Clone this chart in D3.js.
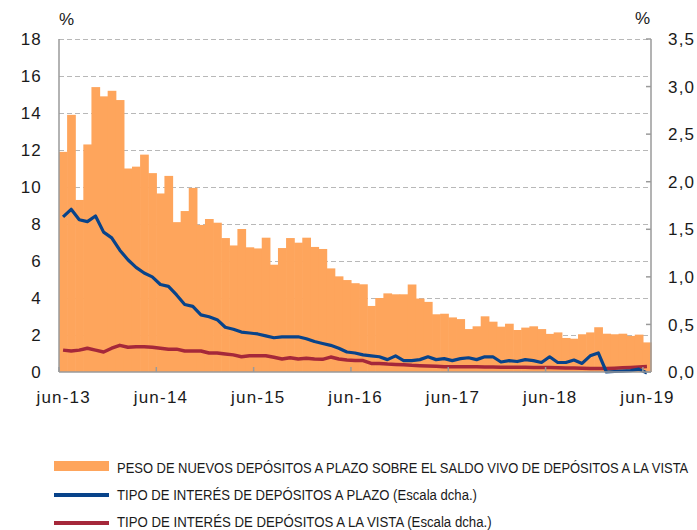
<!DOCTYPE html>
<html>
<head>
<meta charset="utf-8">
<script src="https://cdn.jsdelivr.net/npm/d3@7"></script>
<style>
    html, body { margin: 0; padding: 0; background: #fff; }
    svg { display: block; }
    .tick-label { font-family: "Liberation Sans", Arial, sans-serif; font-size: 17px; fill: #1a1a1a; letter-spacing: 1.2px; }
    .legend-label { font-family: "Liberation Sans Narrow", "Arial Narrow", "Liberation Sans", sans-serif; font-size: 15.5px; fill: #1a1a1a; }
</style>
</head>
<body>
<div id="chart"></div>
<script>
(function () {
    // Data: monthly, jun-13 .. jun-19
    var months = ['jun-13', 'jul-13', 'ago-13', 'sep-13', 'oct-13', 'nov-13', 'dic-13',
        'ene-14', 'feb-14', 'mar-14', 'abr-14', 'may-14', 'jun-14', 'jul-14', 'ago-14', 'sep-14', 'oct-14', 'nov-14', 'dic-14',
        'ene-15', 'feb-15', 'mar-15', 'abr-15', 'may-15', 'jun-15', 'jul-15', 'ago-15', 'sep-15', 'oct-15', 'nov-15', 'dic-15',
        'ene-16', 'feb-16', 'mar-16', 'abr-16', 'may-16', 'jun-16', 'jul-16', 'ago-16', 'sep-16', 'oct-16', 'nov-16', 'dic-16',
        'ene-17', 'feb-17', 'mar-17', 'abr-17', 'may-17', 'jun-17', 'jul-17', 'ago-17', 'sep-17', 'oct-17', 'nov-17', 'dic-17',
        'ene-18', 'feb-18', 'mar-18', 'abr-18', 'may-18', 'jun-18', 'jul-18', 'ago-18', 'sep-18', 'oct-18', 'nov-18', 'dic-18',
        'ene-19', 'feb-19', 'mar-19', 'abr-19', 'may-19', 'jun-19'];

    // Peso de nuevos depositos a plazo (left axis, %)
    var pesoNuevos = [11.9, 13.9, 9.3, 12.3, 15.4, 14.9, 15.2,
        14.7, 11.0, 11.1, 11.75, 10.75, 9.65, 10.6, 8.1, 8.7, 9.95, 7.95, 8.27,
        8.07, 7.24, 6.84, 7.73, 6.74, 6.68, 7.26, 5.8, 6.7, 7.24, 6.99, 7.26,
        6.76, 6.65, 5.6, 5.17, 4.97, 4.8, 4.74, 3.57, 4.0, 4.25, 4.2, 4.2,
        4.73, 3.97, 3.79, 3.12, 3.15, 2.95, 2.86, 2.32, 2.47, 3.01, 2.72, 2.45,
        2.61, 2.27, 2.4, 2.47, 2.32, 2.06, 2.14, 1.84, 1.8, 2.04, 2.14, 2.42,
        2.07, 2.04, 2.07, 1.95, 2.02, 1.6];

    // Tipo de interes depositos a plazo (right axis, %)
    var tipoPlazo = [1.63, 1.71, 1.60, 1.58, 1.64, 1.47, 1.41,
        1.28, 1.18, 1.10, 1.04, 1.0, 0.92, 0.90, 0.81, 0.71, 0.69, 0.60, 0.58,
        0.55, 0.47, 0.45, 0.42, 0.41, 0.40, 0.38, 0.36, 0.37, 0.37, 0.37, 0.35,
        0.32, 0.30, 0.28, 0.25, 0.21, 0.20, 0.18, 0.17, 0.16, 0.13, 0.17, 0.12,
        0.12, 0.13, 0.16, 0.13, 0.14, 0.12, 0.14, 0.15, 0.13, 0.16, 0.16, 0.105,
        0.12, 0.11, 0.13, 0.12, 0.10, 0.16, 0.10, 0.10, 0.126, 0.09, 0.17, 0.20,
        0.0, 0.005, 0.01, 0.015, 0.03, -0.01];

    // Tipo de interes depositos a la vista (right axis, %)
    var tipoVista = [0.23, 0.22, 0.23, 0.25, 0.23, 0.21, 0.25,
        0.28, 0.26, 0.265, 0.265, 0.26, 0.25, 0.24, 0.24, 0.22, 0.22, 0.22, 0.20,
        0.20, 0.19, 0.18, 0.16, 0.17, 0.17, 0.17, 0.155, 0.137, 0.15, 0.137, 0.145,
        0.137, 0.133, 0.157, 0.137, 0.126, 0.122, 0.12, 0.09, 0.09, 0.084, 0.08, 0.077,
        0.07, 0.066, 0.063, 0.06, 0.056, 0.055, 0.055, 0.055, 0.054, 0.053, 0.052, 0.051,
        0.05, 0.05, 0.049, 0.048, 0.047, 0.046, 0.045, 0.043, 0.041, 0.039, 0.037, 0.036,
        0.036, 0.04, 0.044, 0.048, 0.053, 0.057];

    var leftTicks = [0, 2, 4, 6, 8, 10, 12, 14, 16, 18];
    var rightTicks = [0, 0.5, 1, 1.5, 2, 2.5, 3, 3.5];
    var xTickLabels = ['jun-13', 'jun-14', 'jun-15', 'jun-16', 'jun-17', 'jun-18', 'jun-19'];

    var legendItems = [
        { label: 'PESO DE NUEVOS DEPÓSITOS A PLAZO SOBRE EL SALDO VIVO DE DEPÓSITOS A LA VISTA', kind: 'bar', color: '#fea55c', width: 572 },
        { label: 'TIPO DE INTERÉS DE DEPÓSITOS A PLAZO (Escala dcha.)', kind: 'line', color: '#08438a', width: 360 },
        { label: 'TIPO DE INTERÉS DE DEPÓSITOS A LA VISTA (Escala dcha.)', kind: 'line', color: '#a5283a', width: 375 }
    ];

    // Layout
    var W = 697, H = 530;
    var PLOT_L = 59, PLOT_R = 651, PLOT_T = 39, PLOT_B = 372;
    var AXIS_COLOR = '#9a9a9a';
    var GRID_COLOR = '#b8b8b8';

    var svg = d3.select('#chart').append('svg')
        .attr('width', W).attr('height', H)
        .attr('viewBox', [0, 0, W, H]);

    var x = d3.scaleBand().domain(months).range([PLOT_L, PLOT_R]).paddingInner(0).paddingOuter(0);
    var yL = d3.scaleLinear().domain([0, 18]).range([PLOT_B, PLOT_T]);
    var yR = d3.scaleLinear().domain([0, 3.5]).range([PLOT_B, PLOT_T]);
    var bw = x.bandwidth();

    // Gridlines (behind bars)
    svg.append('g').selectAll('line')
        .data(leftTicks.filter(function (d) { return d > 0; }))
        .join('line')
        .attr('x1', PLOT_L).attr('x2', PLOT_R)
        .attr('y1', function (d) { return Math.round(yL(d)) + 0.5; })
        .attr('y2', function (d) { return Math.round(yL(d)) + 0.5; })
        .attr('stroke', GRID_COLOR)
        .attr('stroke-width', 1)
        .attr('stroke-dasharray', '5,3');

    // Bars
    svg.append('g').selectAll('rect')
        .data(pesoNuevos)
        .join('rect')
        .attr('x', function (d, i) { return x(months[i]); })
        .attr('width', bw + 0.6)
        .attr('y', function (d) { return yL(d); })
        .attr('height', function (d) { return PLOT_B - yL(d); })
        .attr('fill', legendItems[0].color);

    // Lines (right scale)
    var lineGen = d3.line()
        .x(function (d, i) { return x(months[i]) + bw / 2; })
        .y(function (d) { return yR(d); });

    svg.append('path')
        .datum(tipoVista)
        .attr('d', lineGen)
        .attr('fill', 'none')
        .attr('stroke', legendItems[2].color)
        .attr('stroke-width', 3.5)
        .attr('stroke-linejoin', 'round');

    svg.append('path')
        .datum(tipoPlazo)
        .attr('d', lineGen)
        .attr('fill', 'none')
        .attr('stroke', legendItems[1].color)
        .attr('stroke-width', 3.2)
        .attr('stroke-linejoin', 'round');

    // Axis frame: left, bottom, right
    var frame = svg.append('g').attr('stroke', AXIS_COLOR).attr('stroke-width', 1.5);
    frame.append('line').attr('x1', PLOT_L).attr('x2', PLOT_L).attr('y1', PLOT_T).attr('y2', PLOT_B);
    frame.append('line').attr('x1', PLOT_R).attr('x2', PLOT_R).attr('y1', PLOT_T).attr('y2', PLOT_B);
    frame.append('line').attr('x1', PLOT_L).attr('x2', PLOT_R).attr('y1', PLOT_B).attr('y2', PLOT_B);

    // Right axis inward ticks
    frame.selectAll('.rtick')
        .data(rightTicks)
        .join('line')
        .attr('class', 'rtick')
        .attr('x1', PLOT_R - 5).attr('x2', PLOT_R)
        .attr('y1', function (d) { return yR(d); })
        .attr('y2', function (d) { return yR(d); });

    // Bottom ticks at each June (left edge of the band)
    frame.selectAll('.xtick')
        .data(xTickLabels)
        .join('line')
        .attr('class', 'xtick')
        .attr('x1', function (d) { return x(d); })
        .attr('x2', function (d) { return x(d); })
        .attr('y1', PLOT_B - 5).attr('y2', PLOT_B);

    // Left tick labels
    svg.append('g').selectAll('text')
        .data(leftTicks)
        .join('text')
        .attr('class', 'tick-label')
        .attr('x', 42)
        .attr('y', function (d) { return yL(d); })
        .attr('dy', '0.36em')
        .attr('text-anchor', 'end')
        .text(function (d) { return d; });

    // Right tick labels (comma decimal)
    svg.append('g').selectAll('text')
        .data(rightTicks)
        .join('text')
        .attr('class', 'tick-label')
        .attr('x', 668)
        .attr('y', function (d) { return yR(d); })
        .attr('dy', '0.36em')
        .text(function (d) { return d3.format('.1f')(d).replace('.', ','); });

    // X labels centred on the June band
    svg.append('g').selectAll('text')
        .data(xTickLabels)
        .join('text')
        .attr('class', 'tick-label')
        .attr('x', function (d) { return x(d) + bw / 2 + 0.6; })
        .attr('y', 403)
        .attr('text-anchor', 'middle')
        .text(function (d) { return d; });

    // Unit labels
    svg.append('text').attr('class', 'tick-label').attr('x', 59).attr('y', 25).text('%');
    svg.append('text').attr('class', 'tick-label').attr('x', 635).attr('y', 24).text('%');

    // Legend: text squeezed horizontally to the reference width (condensed face)
    var LEG_X = 54, LEG_SW = 55, LEG_TX = 117;
    var legRowY = [466, 495, 523];
    var legBase = [472.5, 500, 526.5];
    var leg = svg.append('g');
    legendItems.forEach(function (item, i) {
        var h = item.kind === 'bar' ? 10 : 4;
        leg.append('rect')
            .attr('x', LEG_X).attr('y', legRowY[i] - h / 2)
            .attr('width', LEG_SW).attr('height', h)
            .attr('fill', item.color);
        var t = leg.append('text')
            .attr('class', 'legend-label')
            .attr('x', 0).attr('y', 0)
            .text(item.label);
        var natural = t.node().getComputedTextLength() || item.width;
        t.attr('transform', 'translate(' + LEG_TX + ',' + legBase[i] + ') scale(' + (item.width / natural) + ',1)');
    });
}());
</script>
</body>
</html>
